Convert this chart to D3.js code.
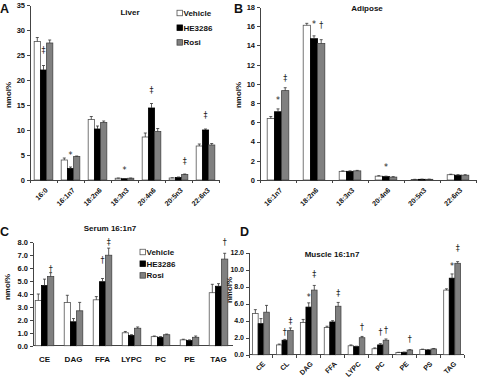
<!DOCTYPE html>
<html>
<head>
  <meta charset="utf8">
  <script src="https://d3js.org/d3.v7.min.js"></script>
  <style>
    body { margin: 0; background: #fff; }
    text { font-family: 'Liberation Sans', Arial, sans-serif; font-weight: bold; fill: #111; }
    .axis path, .axis line { stroke: #444; shape-rendering: crispEdges; }
    .mark { font-family: 'DejaVu Sans', sans-serif; font-weight: normal; fill: #222; }
  </style>
</head>
<body>
  <svg id="chart" width="477" height="381"></svg>
  <script>
    // ---- data ----
    var series = ['Vehicle', 'HE3286', 'Rosi'];

    var liverCats = ['16:0', '16:1n7', '18:2n6', '18:3n3', '20:4n6', '20:5n3', '22:6n3'];
    var liverVehicle = [27.7, 4.0, 12.1, 0.35, 8.6, 0.4, 6.8];
    var liverHE = [22.0, 2.3, 10.2, 0.25, 14.4, 0.5, 10.0];
    var liverRosi = [27.4, 4.7, 11.5, 0.35, 9.7, 1.1, 7.0];
    var liverVehicleErr = [0.8, 0.4, 0.6, 0.05, 0.8, 0.05, 0.4];
    var liverHEErr = [0.9, 0.3, 0.6, 0.05, 0.9, 0.1, 0.2];
    var liverRosiErr = [0.6, 0.1, 0.3, 0.05, 0.6, 0.1, 0.3];
    var liverMarks = [['16:0', 1, '‡', 26], ['16:1n7', 1, '*', 5.3], ['18:3n3', 1, '*', 2.3],
      ['20:4n6', 1, '‡', 18], ['20:5n3', 2, '‡', 3.8], ['22:6n3', 1, '‡', 13]];

    var adiposeCats = ['16:1n7', '18:2n6', '18:3n3', '20:4n6', '20:5n3', '22:6n3'];
    var adiposeVehicle = [6.4, 16.1, 0.9, 0.4, 0.05, 0.55];
    var adiposeHE = [7.1, 14.7, 0.9, 0.35, 0.07, 0.5];
    var adiposeRosi = [9.3, 14.2, 0.95, 0.3, 0.07, 0.5];
    var adiposeVehicleErr = [0.2, 0.2, 0.05, 0.05, 0.02, 0.05];
    var adiposeHEErr = [0.3, 0.3, 0.05, 0.05, 0.02, 0.05];
    var adiposeRosiErr = [0.3, 0.4, 0.05, 0.05, 0.02, 0.05];
    var adiposeMarks = [['16:1n7', 1, '*', 8.5], ['16:1n7', 2, '‡', 10.6], ['18:2n6', 1, '*', 16.4],
      ['18:2n6', 2, '†', 16.1], ['20:4n6', 1, '*', 1.5]];

    var serumCats = ['CE', 'DAG', 'FFA', 'LYPC', 'PC', 'PE', 'TAG'];
    var serumVehicle = [3.5, 3.35, 3.55, 1.0, 0.7, 0.45, 4.1];
    var serumHE = [4.65, 1.85, 4.95, 0.8, 0.65, 0.4, 4.6];
    var serumRosi = [5.35, 2.7, 7.0, 1.35, 0.85, 0.65, 6.7];
    var serumVehicleErr = [0.5, 0.55, 0.25, 0.1, 0.05, 0.05, 0.65];
    var serumHEErr = [0.5, 0.25, 0.25, 0.05, 0.05, 0.05, 0.2];
    var serumRosiErr = [0.3, 0.65, 0.55, 0.1, 0.05, 0.1, 0.45];
    var serumMarks = [['CE', 2, '†', 5.95], ['FFA', 1, '†', 6.6], ['FFA', 2, '‡', 8.0], ['TAG', 2, '†', 8.0]];

    var muscleCats = ['CE', 'CL', 'DAG', 'FFA', 'LYPC', 'PC', 'PE', 'PS', 'TAG'];
    var muscleVehicle = [4.85, 1.15, 3.8, 3.2, 1.05, 0.7, 0.25, 0.6, 7.6];
    var muscleHE = [3.65, 1.7, 5.6, 3.85, 0.95, 1.15, 0.28, 0.55, 9.0];
    var muscleRosi = [5.0, 2.85, 7.6, 5.7, 2.0, 1.7, 0.55, 0.68, 10.75];
    var muscleVehicleErr = [0.45, 0.1, 0.35, 0.15, 0.1, 0.1, 0.03, 0.05, 0.15];
    var muscleHEErr = [0.6, 0.1, 0.5, 0.15, 0.05, 0.15, 0.03, 0.05, 0.5];
    var muscleRosiErr = [0.8, 0.3, 0.55, 0.45, 0.15, 0.15, 0.05, 0.05, 0.2];
    var muscleMarks = [['CL', 1, '†', 2.6], ['CL', 2, '‡', 3.9], ['DAG', 1, '*', 7.0], ['DAG', 2, '‡', 9.5],
      ['FFA', 2, '‡', 7.2], ['LYPC', 2, '†', 3.2], ['PC', 1, '†', 2.6], ['PC', 2, '†', 2.9],
      ['PE', 2, '†', 1.8], ['TAG', 1, '*', 10.6], ['TAG', 2, '‡', 12.5]];

    var fills = ['#ffffff', '#000000', '#808080'];
    var strokes = ['#555', '#000', '#444'];

    var chart = d3.select('#chart');

    function panel(p) {
      var g = chart.append('g');
      var x = d3.scaleBand().domain(p.cats).range(p.xr);
      var gw = x.bandwidth() * p.group;
      var xs = d3.scaleBand().domain([0, 1, 2]).range([0, gw]);
      var y = d3.scaleLinear().domain(p.yd).range(p.yr);
      var off = (x.bandwidth() - gw) / 2;

      var yAxis = d3.axisLeft(y).tickValues(d3.range(p.yd[0], p.yd[1] + 0.001, p.step))
        .tickSize(3).tickPadding(2).tickSizeOuter(0).tickFormat(d3.format(p.fmt));
      g.append('g').attr('class', 'axis').attr('transform', 'translate(' + p.ax + ',0)')
        .call(yAxis).selectAll('text').style('font-size', p.tfs || '7.5px');

      var xa = g.append('g').attr('class', 'axis');
      xa.append('line').attr('x1', p.ax).attr('x2', p.xr[1])
        .attr('y1', y(0)).attr('y2', y(0));
      if (p.xticks) {
        xa.selectAll('.xt').data(p.cats.concat(['end'])).enter().append('line')
          .attr('x1', (d, i) => p.xr[0] + i * x.step()).attr('x2', (d, i) => p.xr[0] + i * x.step())
          .attr('y1', y(0)).attr('y2', y(0) + 3);
      }

      p.values.forEach(function (vals, s) {
        g.selectAll('.b' + s).data(vals).enter().append('rect')
          .attr('x', (d, i) => x(p.cats[i]) + off + xs(s))
          .attr('y', (d) => y(d))
          .attr('width', xs.bandwidth())
          .attr('height', (d) => y(0) - y(d))
          .attr('fill', fills[s]).attr('stroke', strokes[s]).attr('stroke-width', 0.8);
        g.selectAll('.e' + s).data(vals).enter().append('path')
          .attr('d', function (d, i) {
            var cx = x(p.cats[i]) + off + xs(s) + xs.bandwidth() / 2;
            var t = y(d + p.errs[s][i]);
            return 'M' + cx + ',' + y(d) + 'V' + t + 'M' + (cx - 1.5) + ',' + t + 'H' + (cx + 1.5);
          })
          .attr('stroke', '#333').attr('stroke-width', 0.8).attr('fill', 'none');
      });

      g.selectAll('.mk').data(p.marks).enter().append('text')
        .attr('class', 'mark')
        .attr('x', (d) => x(d[0]) + off + xs(d[1]) + xs.bandwidth() / 2)
        .attr('y', (d) => y(d[3]))
        .attr('dy', (d) => d[2] === '*' ? '0.6em' : '0.35em')
        .attr('text-anchor', 'middle').style('font-size', '8px')
        .text((d) => d[2]);

      if (p.rotate) {
        g.selectAll('.xl').data(p.cats).enter().append('text')
          .attr('transform', (d) => 'translate(' + (x(d) + x.bandwidth() / 2 + 3) + ',' + (y(0) + p.ly) + ') rotate(-45)')
          .attr('text-anchor', 'end').attr('dy', '0.35em').style('font-size', '7px').text((d) => d);
      } else {
        g.selectAll('.xl').data(p.cats).enter().append('text')
          .attr('x', (d) => x(d) + x.bandwidth() / 2).attr('y', y(0) + p.ly)
          .attr('text-anchor', 'middle').style('font-size', '8px').text((d) => d);
      }

      g.append('text').attr('transform', 'translate(' + p.yl[0] + ',' + p.yl[1] + ') rotate(-90)')
        .attr('text-anchor', 'middle').style('font-size', '8px').text('nmol%');
      g.append('text').attr('x', p.title[0]).attr('y', p.title[1]).attr('text-anchor', 'middle')
        .style('font-size', '8px').text(p.title[2]);
      g.append('text').attr('x', p.letter[0]).attr('y', p.letter[1])
        .style('font-size', '12.5px').text(p.letter[2]);

      if (p.legend) {
        series.forEach(function (s, i) {
          var ly = p.legend[1] + i * p.legend[2];
          g.append('rect').attr('x', p.legend[0]).attr('y', ly - 2.75).attr('width', 5.5).attr('height', 5.5)
            .attr('fill', fills[i]).attr('stroke', strokes[i]).attr('stroke-width', 0.8);
          g.append('text').attr('x', p.legend[0] + 6.5).attr('y', ly).attr('dy', '0.35em')
            .style('font-size', '8px').text(s);
        });
      }
    }

    panel({
      cats: liverCats, values: [liverVehicle, liverHE, liverRosi],
      errs: [liverVehicleErr, liverHEErr, liverRosiErr], marks: liverMarks,
      ax: 30, xr: [30, 219], yd: [0, 35], yr: [180, 5], step: 5, fmt: 'd', group: 0.69,
      xticks: true, rotate: true, ly: 9, yl: [11, 95], title: [130, 15, 'Liver'],
      letter: [0, 13, 'A'], legend: [177, 13, 14.7]
    });
    panel({
      cats: adiposeCats, values: [adiposeVehicle, adiposeHE, adiposeRosi],
      errs: [adiposeVehicleErr, adiposeHEErr, adiposeRosiErr], marks: adiposeMarks,
      ax: 260, xr: [260, 476], yd: [0, 18], yr: [180, 7], step: 2, fmt: 'd', group: 0.6,
      xticks: true, rotate: true, ly: 9, yl: [241, 95], title: [367, 11, 'Adipose'],
      letter: [234, 13, 'B']
    });
    panel({
      cats: serumCats, values: [serumVehicle, serumHE, serumRosi],
      errs: [serumVehicleErr, serumHEErr, serumRosiErr], marks: serumMarks,
      ax: 33, xr: [30, 233], yd: [0, 8], yr: [345.7, 242.3], step: 1, fmt: '.1f', group: 0.64,
      xticks: false, rotate: false, ly: 16, yl: [10, 287], title: [110, 231, 'Serum 16:1n7'],
      letter: [0, 236, 'C'], legend: [140, 252, 11.7]
    });
    panel({
      cats: muscleCats, values: [muscleVehicle, muscleHE, muscleRosi],
      errs: [muscleVehicleErr, muscleHEErr, muscleRosiErr], marks: muscleMarks,
      ax: 249, xr: [249, 464], yd: [0, 12], yr: [354.7, 252.7], step: 2, fmt: '.1f', group: 0.7,
      xticks: true, rotate: true, ly: 8, yl: [232, 290], title: [332, 257, 'Muscle 16:1n7'],
      letter: [240, 236, 'D'], tfs: '7px'
    });
  </script>
</body>
</html>
